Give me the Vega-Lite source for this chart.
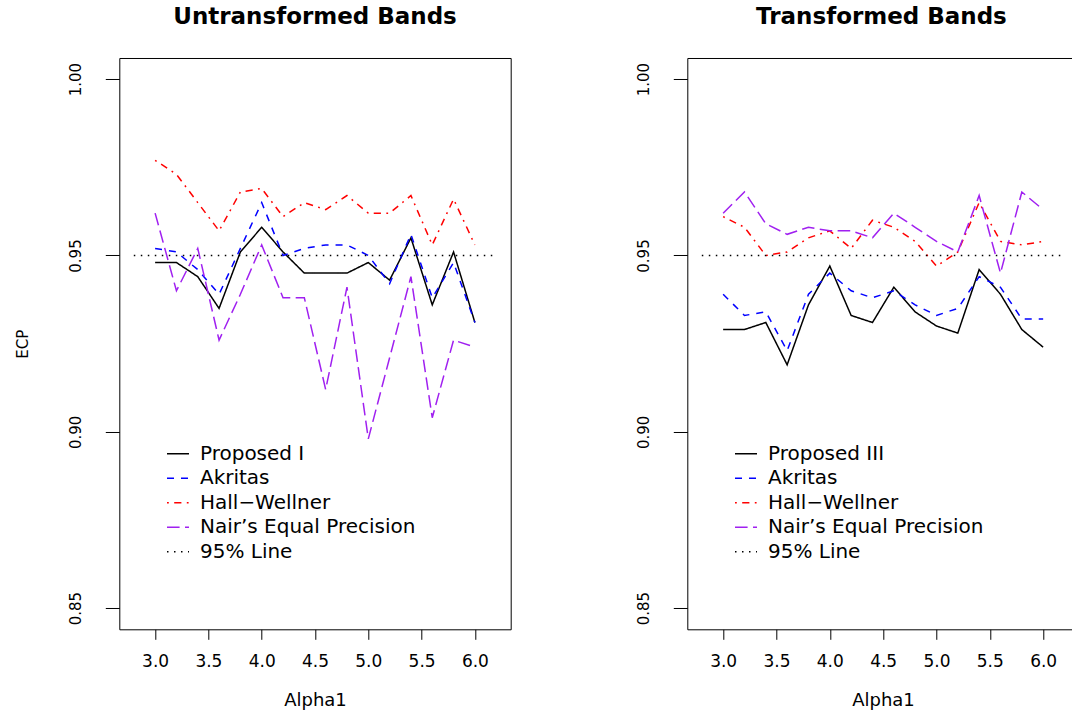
{
  "$schema": "https://vega.github.io/schema/vega-lite/v6.json",
  "background": "white",
  "padding": {"left": 14.3, "top": 5, "right": 0, "bottom": 0},
  "bounds": "flush",
  "spacing": 176,
  "config": {
    "font": "DejaVu Sans",
    "view": {"stroke": "black", "strokeWidth": 1},
    "axis": {
      "grid": false,
      "domain": false,
      "tickColor": "black",
      "tickWidth": 1,
      "labelColor": "black",
      "labelFont": "DejaVu Sans",
      "titleColor": "black",
      "titleFont": "DejaVu Sans",
      "titleFontWeight": "normal"
    },
    "axisX": {
      "tickSize": 10,
      "labelFontSize": 17,
      "labelPadding": 14,
      "labelBaseline": "top",
      "titleFontSize": 18,
      "titlePadding": 22
    },
    "axisY": {
      "tickSize": 14,
      "labelFontSize": 15,
      "labelAngle": 270,
      "labelAlign": "center",
      "labelBaseline": "alphabetic",
      "labelPadding": 25,
      "titleFontSize": 15,
      "titlePadding": 38
    },
    "legend": {
      "orient": "none",
      "legendX": 46.7,
      "legendY": 383.7,
      "padding": 0,
      "title": null,
      "symbolType": "stroke",
      "symbolSize": 484,
      "symbolStrokeWidth": 1.5,
      "labelOffset": 10,
      "labelFontSize": 20,
      "labelFont": "DejaVu Sans",
      "labelColor": "black",
      "labelLimit": 400,
      "rowPadding": 2.5
    },
    "title": {
      "fontSize": 23,
      "fontWeight": "bold",
      "font": "DejaVu Sans",
      "color": "black",
      "anchor": "middle",
      "frame": "group",
      "baseline": "alphabetic",
      "offset": 29
    }
  },
  "datasets": {
    "untransformed": [
      {"alpha1": 3.0, "ecp": 0.948, "band": "Proposed I"},
      {"alpha1": 3.2, "ecp": 0.948, "band": "Proposed I"},
      {"alpha1": 3.4, "ecp": 0.944, "band": "Proposed I"},
      {"alpha1": 3.6, "ecp": 0.935, "band": "Proposed I"},
      {"alpha1": 3.8, "ecp": 0.951, "band": "Proposed I"},
      {"alpha1": 4.0, "ecp": 0.958, "band": "Proposed I"},
      {"alpha1": 4.2, "ecp": 0.951, "band": "Proposed I"},
      {"alpha1": 4.4, "ecp": 0.945, "band": "Proposed I"},
      {"alpha1": 4.6, "ecp": 0.945, "band": "Proposed I"},
      {"alpha1": 4.8, "ecp": 0.945, "band": "Proposed I"},
      {"alpha1": 5.0, "ecp": 0.948, "band": "Proposed I"},
      {"alpha1": 5.2, "ecp": 0.943, "band": "Proposed I"},
      {"alpha1": 5.4, "ecp": 0.955, "band": "Proposed I"},
      {"alpha1": 5.6, "ecp": 0.936, "band": "Proposed I"},
      {"alpha1": 5.8, "ecp": 0.951, "band": "Proposed I"},
      {"alpha1": 6.0, "ecp": 0.931, "band": "Proposed I"},
      {"alpha1": 3.0, "ecp": 0.952, "band": "Akritas"},
      {"alpha1": 3.2, "ecp": 0.951, "band": "Akritas"},
      {"alpha1": 3.4, "ecp": 0.946, "band": "Akritas"},
      {"alpha1": 3.6, "ecp": 0.939, "band": "Akritas"},
      {"alpha1": 3.8, "ecp": 0.952, "band": "Akritas"},
      {"alpha1": 4.0, "ecp": 0.965, "band": "Akritas"},
      {"alpha1": 4.2, "ecp": 0.950, "band": "Akritas"},
      {"alpha1": 4.4, "ecp": 0.952, "band": "Akritas"},
      {"alpha1": 4.6, "ecp": 0.953, "band": "Akritas"},
      {"alpha1": 4.8, "ecp": 0.953, "band": "Akritas"},
      {"alpha1": 5.0, "ecp": 0.950, "band": "Akritas"},
      {"alpha1": 5.2, "ecp": 0.942, "band": "Akritas"},
      {"alpha1": 5.4, "ecp": 0.956, "band": "Akritas"},
      {"alpha1": 5.6, "ecp": 0.938, "band": "Akritas"},
      {"alpha1": 5.8, "ecp": 0.948, "band": "Akritas"},
      {"alpha1": 6.0, "ecp": 0.931, "band": "Akritas"},
      {"alpha1": 3.0, "ecp": 0.977, "band": "Hall−Wellner"},
      {"alpha1": 3.2, "ecp": 0.973, "band": "Hall−Wellner"},
      {"alpha1": 3.4, "ecp": 0.965, "band": "Hall−Wellner"},
      {"alpha1": 3.6, "ecp": 0.957, "band": "Hall−Wellner"},
      {"alpha1": 3.8, "ecp": 0.968, "band": "Hall−Wellner"},
      {"alpha1": 4.0, "ecp": 0.969, "band": "Hall−Wellner"},
      {"alpha1": 4.2, "ecp": 0.961, "band": "Hall−Wellner"},
      {"alpha1": 4.4, "ecp": 0.965, "band": "Hall−Wellner"},
      {"alpha1": 4.6, "ecp": 0.963, "band": "Hall−Wellner"},
      {"alpha1": 4.8, "ecp": 0.967, "band": "Hall−Wellner"},
      {"alpha1": 5.0, "ecp": 0.962, "band": "Hall−Wellner"},
      {"alpha1": 5.2, "ecp": 0.962, "band": "Hall−Wellner"},
      {"alpha1": 5.4, "ecp": 0.967, "band": "Hall−Wellner"},
      {"alpha1": 5.6, "ecp": 0.953, "band": "Hall−Wellner"},
      {"alpha1": 5.8, "ecp": 0.966, "band": "Hall−Wellner"},
      {"alpha1": 6.0, "ecp": 0.953, "band": "Hall−Wellner"},
      {"alpha1": 3.0, "ecp": 0.962, "band": "Nair’s Equal Precision"},
      {"alpha1": 3.2, "ecp": 0.940, "band": "Nair’s Equal Precision"},
      {"alpha1": 3.4, "ecp": 0.952, "band": "Nair’s Equal Precision"},
      {"alpha1": 3.6, "ecp": 0.926, "band": "Nair’s Equal Precision"},
      {"alpha1": 3.8, "ecp": 0.939, "band": "Nair’s Equal Precision"},
      {"alpha1": 4.0, "ecp": 0.953, "band": "Nair’s Equal Precision"},
      {"alpha1": 4.2, "ecp": 0.938, "band": "Nair’s Equal Precision"},
      {"alpha1": 4.4, "ecp": 0.938, "band": "Nair’s Equal Precision"},
      {"alpha1": 4.6, "ecp": 0.912, "band": "Nair’s Equal Precision"},
      {"alpha1": 4.8, "ecp": 0.941, "band": "Nair’s Equal Precision"},
      {"alpha1": 5.0, "ecp": 0.898, "band": "Nair’s Equal Precision"},
      {"alpha1": 5.2, "ecp": 0.921, "band": "Nair’s Equal Precision"},
      {"alpha1": 5.4, "ecp": 0.944, "band": "Nair’s Equal Precision"},
      {"alpha1": 5.6, "ecp": 0.904, "band": "Nair’s Equal Precision"},
      {"alpha1": 5.8, "ecp": 0.926, "band": "Nair’s Equal Precision"},
      {"alpha1": 6.0, "ecp": 0.924, "band": "Nair’s Equal Precision"},
      {"alpha1": 2.8, "ecp": 0.95, "band": "95% Line"},
      {"alpha1": 6.2, "ecp": 0.95, "band": "95% Line"}
    ],
    "transformed": [
      {"alpha1": 3.0, "ecp": 0.929, "band": "Proposed III"},
      {"alpha1": 3.2, "ecp": 0.929, "band": "Proposed III"},
      {"alpha1": 3.4, "ecp": 0.931, "band": "Proposed III"},
      {"alpha1": 3.6, "ecp": 0.919, "band": "Proposed III"},
      {"alpha1": 3.8, "ecp": 0.936, "band": "Proposed III"},
      {"alpha1": 4.0, "ecp": 0.947, "band": "Proposed III"},
      {"alpha1": 4.2, "ecp": 0.933, "band": "Proposed III"},
      {"alpha1": 4.4, "ecp": 0.931, "band": "Proposed III"},
      {"alpha1": 4.6, "ecp": 0.941, "band": "Proposed III"},
      {"alpha1": 4.8, "ecp": 0.934, "band": "Proposed III"},
      {"alpha1": 5.0, "ecp": 0.930, "band": "Proposed III"},
      {"alpha1": 5.2, "ecp": 0.928, "band": "Proposed III"},
      {"alpha1": 5.4, "ecp": 0.946, "band": "Proposed III"},
      {"alpha1": 5.6, "ecp": 0.939, "band": "Proposed III"},
      {"alpha1": 5.8, "ecp": 0.929, "band": "Proposed III"},
      {"alpha1": 6.0, "ecp": 0.924, "band": "Proposed III"},
      {"alpha1": 3.0, "ecp": 0.939, "band": "Akritas"},
      {"alpha1": 3.2, "ecp": 0.933, "band": "Akritas"},
      {"alpha1": 3.4, "ecp": 0.934, "band": "Akritas"},
      {"alpha1": 3.6, "ecp": 0.923, "band": "Akritas"},
      {"alpha1": 3.8, "ecp": 0.939, "band": "Akritas"},
      {"alpha1": 4.0, "ecp": 0.945, "band": "Akritas"},
      {"alpha1": 4.2, "ecp": 0.940, "band": "Akritas"},
      {"alpha1": 4.4, "ecp": 0.938, "band": "Akritas"},
      {"alpha1": 4.6, "ecp": 0.940, "band": "Akritas"},
      {"alpha1": 4.8, "ecp": 0.936, "band": "Akritas"},
      {"alpha1": 5.0, "ecp": 0.933, "band": "Akritas"},
      {"alpha1": 5.2, "ecp": 0.935, "band": "Akritas"},
      {"alpha1": 5.4, "ecp": 0.944, "band": "Akritas"},
      {"alpha1": 5.6, "ecp": 0.941, "band": "Akritas"},
      {"alpha1": 5.8, "ecp": 0.932, "band": "Akritas"},
      {"alpha1": 6.0, "ecp": 0.932, "band": "Akritas"},
      {"alpha1": 3.0, "ecp": 0.961, "band": "Hall−Wellner"},
      {"alpha1": 3.2, "ecp": 0.958, "band": "Hall−Wellner"},
      {"alpha1": 3.4, "ecp": 0.950, "band": "Hall−Wellner"},
      {"alpha1": 3.6, "ecp": 0.951, "band": "Hall−Wellner"},
      {"alpha1": 3.8, "ecp": 0.955, "band": "Hall−Wellner"},
      {"alpha1": 4.0, "ecp": 0.957, "band": "Hall−Wellner"},
      {"alpha1": 4.2, "ecp": 0.952, "band": "Hall−Wellner"},
      {"alpha1": 4.4, "ecp": 0.960, "band": "Hall−Wellner"},
      {"alpha1": 4.6, "ecp": 0.958, "band": "Hall−Wellner"},
      {"alpha1": 4.8, "ecp": 0.954, "band": "Hall−Wellner"},
      {"alpha1": 5.0, "ecp": 0.947, "band": "Hall−Wellner"},
      {"alpha1": 5.2, "ecp": 0.951, "band": "Hall−Wellner"},
      {"alpha1": 5.4, "ecp": 0.965, "band": "Hall−Wellner"},
      {"alpha1": 5.6, "ecp": 0.954, "band": "Hall−Wellner"},
      {"alpha1": 5.8, "ecp": 0.953, "band": "Hall−Wellner"},
      {"alpha1": 6.0, "ecp": 0.954, "band": "Hall−Wellner"},
      {"alpha1": 3.0, "ecp": 0.962, "band": "Nair’s Equal Precision"},
      {"alpha1": 3.2, "ecp": 0.968, "band": "Nair’s Equal Precision"},
      {"alpha1": 3.4, "ecp": 0.959, "band": "Nair’s Equal Precision"},
      {"alpha1": 3.6, "ecp": 0.956, "band": "Nair’s Equal Precision"},
      {"alpha1": 3.8, "ecp": 0.958, "band": "Nair’s Equal Precision"},
      {"alpha1": 4.0, "ecp": 0.957, "band": "Nair’s Equal Precision"},
      {"alpha1": 4.2, "ecp": 0.957, "band": "Nair’s Equal Precision"},
      {"alpha1": 4.4, "ecp": 0.955, "band": "Nair’s Equal Precision"},
      {"alpha1": 4.6, "ecp": 0.962, "band": "Nair’s Equal Precision"},
      {"alpha1": 4.8, "ecp": 0.958, "band": "Nair’s Equal Precision"},
      {"alpha1": 5.0, "ecp": 0.954, "band": "Nair’s Equal Precision"},
      {"alpha1": 5.2, "ecp": 0.951, "band": "Nair’s Equal Precision"},
      {"alpha1": 5.4, "ecp": 0.967, "band": "Nair’s Equal Precision"},
      {"alpha1": 5.6, "ecp": 0.945, "band": "Nair’s Equal Precision"},
      {"alpha1": 5.8, "ecp": 0.968, "band": "Nair’s Equal Precision"},
      {"alpha1": 6.0, "ecp": 0.963, "band": "Nair’s Equal Precision"},
      {"alpha1": 2.8, "ecp": 0.95, "band": "95% Line"},
      {"alpha1": 6.2, "ecp": 0.95, "band": "95% Line"}
    ]
  },
  "hconcat": [
    {
      "width": 391.4,
      "height": 571.3,
      "title": {"text": "Untransformed Bands"},
      "data": {"name": "untransformed"},
      "mark": {"type": "line", "strokeWidth": 1.5},
      "encoding": {
        "x": {
          "field": "alpha1", "type": "quantitative",
          "scale": {"domain": [2.664, 6.336], "nice": false, "zero": false},
          "axis": {"title": "Alpha1", "values": [3, 3.5, 4, 4.5, 5, 5.5, 6], "format": ".1f"}
        },
        "y": {
          "field": "ecp", "type": "quantitative",
          "scale": {"domain": [0.844, 1.006], "nice": false, "zero": false},
          "axis": {"title": "ECP", "values": [0.85, 0.9, 0.95, 1.0], "format": ".2f"}
        },
        "color": {
          "field": "band", "type": "nominal",
          "scale": {
            "domain": ["Proposed I", "Akritas", "Hall−Wellner", "Nair’s Equal Precision", "95% Line"],
            "range": ["#000000", "#0000FF", "#FF0000", "#A020F0", "#000000"]
          }
        },
        "strokeDash": {
          "field": "band", "type": "nominal",
          "scale": {
            "domain": ["Proposed I", "Akritas", "Hall−Wellner", "Nair’s Equal Precision", "95% Line"],
            "range": [[1, 0], [7, 7], [1.8, 5.4, 7.2, 5.4], [12.6, 5.4], [1.5, 5.5]]
          }
        }
      }
    },
    {
      "width": 385.3,
      "height": 571.3,
      "title": {"text": "Transformed Bands", "dx": 1.5},
      "data": {"name": "transformed"},
      "mark": {"type": "line", "strokeWidth": 1.5},
      "encoding": {
        "x": {
          "field": "alpha1", "type": "quantitative",
          "scale": {"domain": [2.664, 6.276], "nice": false, "zero": false},
          "axis": {"title": "Alpha1", "titleX": 195.7, "values": [3, 3.5, 4, 4.5, 5, 5.5, 6], "format": ".1f"}
        },
        "y": {
          "field": "ecp", "type": "quantitative",
          "scale": {"domain": [0.844, 1.006], "nice": false, "zero": false},
          "axis": {"title": null, "values": [0.85, 0.9, 0.95, 1.0], "format": ".2f"}
        },
        "color": {
          "field": "band", "type": "nominal",
          "scale": {
            "domain": ["Proposed III", "Akritas", "Hall−Wellner", "Nair’s Equal Precision", "95% Line"],
            "range": ["#000000", "#0000FF", "#FF0000", "#A020F0", "#000000"]
          }
        },
        "strokeDash": {
          "field": "band", "type": "nominal",
          "scale": {
            "domain": ["Proposed III", "Akritas", "Hall−Wellner", "Nair’s Equal Precision", "95% Line"],
            "range": [[1, 0], [7, 7], [1.8, 5.4, 7.2, 5.4], [12.6, 5.4], [1.5, 5.5]]
          }
        }
      }
    }
  ],
  "resolve": {
    "scale": {"x": "independent", "y": "independent", "color": "independent", "strokeDash": "independent"}
  }
}
